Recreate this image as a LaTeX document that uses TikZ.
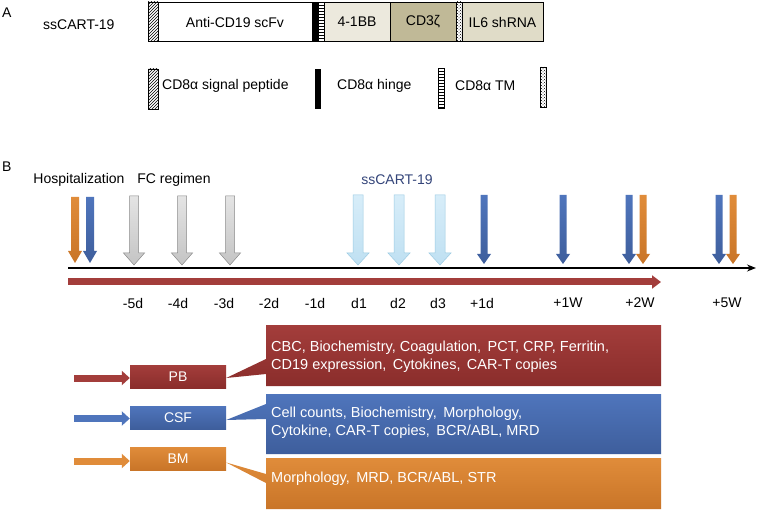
\documentclass[tikz,border=0pt]{standalone}
\usepackage{fontspec}
\setmainfont{Liberation Sans}
\usetikzlibrary{patterns,arrows.meta}
\definecolor{cred}{HTML}{A33D3B}
\definecolor{credd}{HTML}{8A2D2B}
\definecolor{cblue}{HTML}{4F75BC}
\definecolor{cblued}{HTML}{3E5E9C}
\definecolor{corange}{HTML}{E08C3A}
\definecolor{coranged}{HTML}{C97528}
\definecolor{cbb}{HTML}{ECE9DD}
\definecolor{ccd}{HTML}{C0B997}
\definecolor{cil}{HTML}{E0DCC8}
\definecolor{navy}{HTML}{34457A}
\definecolor{lbfill}{HTML}{D7EDF9}
\definecolor{lbfill2}{HTML}{BFE0F2}
\definecolor{lbedge}{HTML}{9BCBE3}
\definecolor{gtop}{HTML}{E4E4E4}
\definecolor{gbot}{HTML}{C4C4C4}
\definecolor{gedge}{HTML}{8A8A8A}
\newcommand{\dnarrow}[7]{%
  \path[#1] ({#2-#3},#5) -- ({#2+#3},#5) -- ({#2+#3},#6) -- ({#2+#4},#6) -- (#2,#7) -- ({#2-#4},#6) -- ({#2-#3},#6) -- cycle;}
\tikzset{
  txt/.style={inner sep=0pt, font=\fontsize{14}{16}\selectfont},
  barseg/.style={draw=black, line width=0.6pt},
  grayarr/.style={top color=gtop, bottom color=gbot, draw=gedge, line width=0.5pt},
  lbarr/.style={top color=lbfill, bottom color=lbfill2, draw=lbedge, line width=0.5pt},
  bluearr/.style={top color=cblue, bottom color=cblued},
  orarr/.style={top color=corange, bottom color=coranged},
  smallbox/.style={minimum width=96pt, minimum height=23pt, inner sep=0pt, text=white, font=\fontsize{14}{16}\selectfont},
  callout/.style={line width=0pt},
  calltxt/.style={inner sep=0pt, anchor=west, align=left, text=white, font=\fontsize{14.5}{18}\selectfont},
  feedarrow/.style={line width=7pt, -{Triangle[length=8pt,width=14pt]}}
}
\begin{document}
\begin{tikzpicture}[x=1pt,y=-1pt]
\useasboundingbox[fill=white] (0,0) rectangle (758,513);
% ---------- Panel A ----------
\node[txt, anchor=west] (A) at (2,13) {A};
\node[txt, anchor=west] (cartlbl) at (43,25) {ssCART-19};
\fill[white] (148,2) rectangle (158,41);
\draw[barseg, pattern=north east lines] (148,2) rectangle (158,41);
\draw[barseg, fill=white] (158,2) rectangle (312,41);
\fill[black] (312,2) rectangle (318,41);
\fill[white] (318,2) rectangle (324,41);
\draw[barseg, pattern=horizontal lines] (318,2) rectangle (324,41);
\draw[barseg, fill=cbb] (324,2) rectangle (390,41);
\draw[barseg, fill=ccd] (390,2) rectangle (456,41);
\fill[white] (456,2) rectangle (462,41);
\draw[barseg, pattern=crosshatch dots] (456,2) rectangle (462,41);
\draw[barseg, fill=cil] (462,2) rectangle (543,41);
\draw[line width=0.9pt] (148,2) rectangle (543,41);
\node[txt] (scfv) at (235,22) {Anti-CD19 scFv};
\node[txt] (bb) at (357,22) {4-1BB};
\node[txt] (cd3) at (423,22) {CD3ζ};
\node[txt] (il6) at (502.5,22) {IL6 shRNA};
% legend
\fill[white] (148,69) rectangle (158,109);
\draw[barseg, pattern=north east lines] (148,69) rectangle (158,109);
\node[txt, anchor=west] (lg1) at (162,86) {CD8α signal peptide};
\fill[black] (315,69) rectangle (321,109);
\node[txt, anchor=west] (lg2) at (337,86) {CD8α hinge};
\draw[barseg, pattern=horizontal lines] (438,68) rectangle (444,108);
\node[txt, anchor=west] (lg3) at (455,86) {CD8α TM};
\draw[barseg, pattern=crosshatch dots] (540,67) rectangle (546,107);
% ---------- Panel B ----------
\node[txt, anchor=west] (B) at (2,167) {B};
\node[txt] (hosp) at (79,180) {Hospitalization};
\node[txt] (fc) at (174,180) {FC regimen};
\node[txt, text=navy] (ssc) at (397,180) {ssCART-19};
% arrows down
\dnarrow{orarr}{75}{4}{7}{197}{251}{263}
\dnarrow{bluearr}{90}{4}{7}{197}{251}{263}
\dnarrow{grayarr}{134}{4.5}{10.5}{196}{253}{265}
\dnarrow{grayarr}{182}{4.5}{10.5}{196}{253}{265}
\dnarrow{grayarr}{230}{4.5}{10.5}{196}{253}{265}
\dnarrow{lbarr}{358}{5}{11}{195}{253}{265}
\dnarrow{lbarr}{399}{5}{11}{195}{253}{265}
\dnarrow{lbarr}{440}{5}{11}{195}{253}{265}
\dnarrow{bluearr}{484}{3.5}{7}{195}{254}{264}
\dnarrow{bluearr}{563}{3.5}{7}{195}{254}{264}
\dnarrow{bluearr}{629}{3.5}{7}{195}{254}{264}
\dnarrow{orarr}{643}{3.5}{7}{195}{254}{264}
\dnarrow{bluearr}{719}{3.5}{7}{195}{254}{264}
\dnarrow{orarr}{733}{3.5}{7}{195}{254}{264}
% axis
\coordinate (axs) at (68,268);
\coordinate (axe) at (756,268);
\draw[line width=1.3pt, -{Stealth[length=9pt,width=7pt]}] (axs) -- (axe);
\coordinate (rbs) at (68,282);
\coordinate (rbe) at (661,282);
\draw[cred, line width=7pt, -{Triangle[length=9pt,width=13pt]}] (rbs) -- (rbe);
% day labels
\node[txt] (t1) at (133,303) {-5d};
\node[txt] (t2) at (178,303) {-4d};
\node[txt] (t3) at (224,303) {-3d};
\node[txt] (t4) at (269,303) {-2d};
\node[txt] (t5) at (315,303) {-1d};
\node[txt] (t6) at (359,303) {d1};
\node[txt] (t7) at (398,303) {d2};
\node[txt] (t8) at (438,303) {d3};
\node[txt] (t9) at (482,303) {+1d};
\node[txt] (t10) at (568,303) {+1W};
\node[txt] (t11) at (640,303) {+2W};
\node[txt] (t12) at (727,303) {+5W};
% sample boxes
\node[smallbox, top color=cred, bottom color=credd] (pb) at (178,377) {PB};
\node[smallbox, top color=cblue, bottom color=cblued] (csf) at (178,417.5) {CSF};
\node[smallbox, top color=corange, bottom color=coranged] (bm) at (178,458.5) {BM};
\coordinate (pbs) at (74,378);
\coordinate (csfs) at (74,418.5);
\coordinate (bms) at (74,461);
\draw[feedarrow, cred] (pbs) -- (pb.west |- pbs);
\draw[feedarrow, cblue] (csfs) -- (csf.west |- csfs);
\draw[feedarrow, corange] (bms) -- (bm.west |- bms);
% callouts
\path[callout, top color=cred, bottom color=credd] (266,325) -- (661,325) -- (661,386) -- (266,386) -- (266,374) -- ([yshift=-1pt]pb.east) -- (266,359) -- cycle;
\path[callout, top color=cblue, bottom color=cblued] (266,394) -- (661,394) -- (661,454) -- (266,454) -- (266,419) -- ([yshift=-2.5pt]csf.east) -- (266,404) -- cycle;
\path[callout, top color=corange, bottom color=coranged] (266,458) -- (661,458) -- (661,509) -- (266,509) -- (266,483) -- ([yshift=-4pt]bm.east) -- (266,474) -- cycle;
\node[calltxt] (pbt) at (271,357) {CBC, Biochemistry, Coagulation,\, PCT, CRP, Ferritin,\\CD19 expression,\, Cytokines,\, CAR-T copies};
\node[calltxt] (csft) at (271,423) {Cell counts, Biochemistry,\, Morphology,\\Cytokine, CAR-T copies,\, BCR/ABL, MRD};
\node[calltxt] (bmt) at (271,479) {Morphology,\, MRD, BCR/ABL, STR};
\end{tikzpicture}
\end{document}
